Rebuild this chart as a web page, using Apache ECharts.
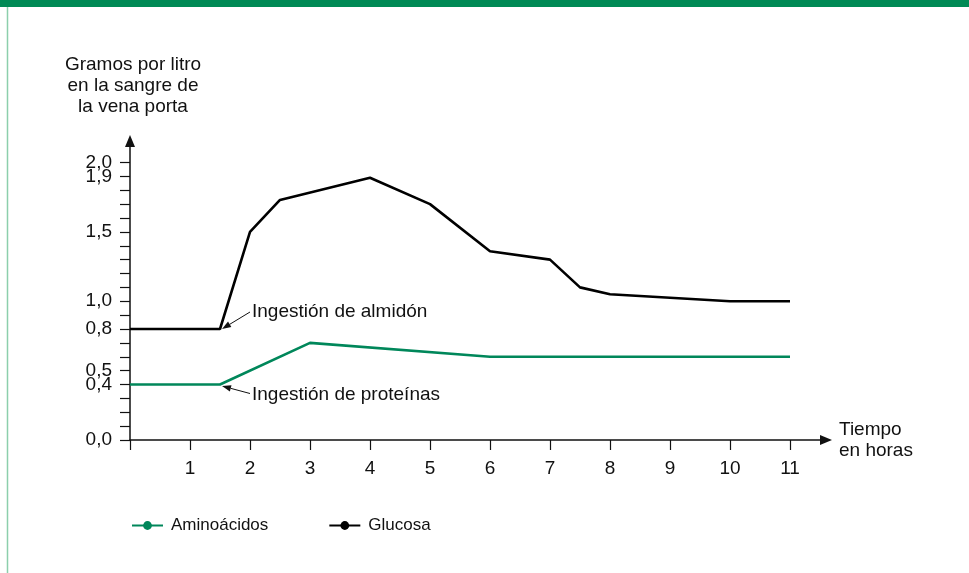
<!DOCTYPE html>
<html>
<head>
<meta charset="utf-8">
<script src="https://cdn.jsdelivr.net/npm/echarts@6/dist/echarts.min.js"></script>
<style>
  html, body { margin: 0; padding: 0; background: #ffffff; }
  #chart { width: 969px; height: 573px; }
</style>
</head>
<body>
<div id="chart"></div>
<script>
// Glucose in portal-vein blood (g/L) over time (hours)
const glucoseHours  = [0, 1.5, 2, 2.5, 4, 5, 6, 7, 7.5, 8, 10, 11];
const glucoseValues = [0.8, 0.8, 1.5, 1.73, 1.89, 1.7, 1.36, 1.3, 1.1, 1.05, 1.0, 1.0];

// Amino acids in portal-vein blood (g/L) over time (hours)
const aminoHours  = [0, 1.5, 3, 6, 11];
const aminoValues = [0.4, 0.4, 0.7, 0.6, 0.6];

// Axis ticks and labels
const xTickValues  = [0, 1, 2, 3, 4, 5, 6, 7, 8, 9, 10, 11];
const xLabelValues = [1, 2, 3, 4, 5, 6, 7, 8, 9, 10, 11];
const yTickValues  = [0, 0.1, 0.2, 0.3, 0.4, 0.5, 0.6, 0.7, 0.8, 0.9, 1.0,
                      1.1, 1.2, 1.3, 1.4, 1.5, 1.6, 1.7, 1.8, 1.9, 2.0];
const yLabelValues = [0, 0.4, 0.5, 0.8, 1.0, 1.5, 2.0];
// drawn on an overlaid axis so the end-label overlap check doesn't drop it
const yLabelValuesExtra = [1.9];

// Event annotations: text and the point they refer to
const eventLabels = ['Ingestión de almidón', 'Ingestión de proteínas'];
const eventHours  = [1.5, 1.5];
const eventValues = [0.8, 0.4];

const GREEN = '#00875a';
const INK = '#111111';
const FONT = '"Liberation Sans", Arial, sans-serif';
const Y_MAX = 2.155;

const zip = (xs, ys) => xs.map((x, i) => [x, ys[i]]);
const comma = v => v.toFixed(1).replace('.', ',');

const yLabelStyle = {
  fontFamily: FONT, fontSize: 19, color: INK, margin: 18,
  showMinLabel: true, showMaxLabel: true, hideOverlap: false,
  formatter: v => comma(v)
};

const chart = echarts.init(document.getElementById('chart'), null, { renderer: 'canvas' });

const option = {
  backgroundColor: '#ffffff',
  animation: false,
  textStyle: { fontFamily: FONT, color: INK },
  grid: { left: 130, right: 143, top: 141, bottom: 133 },
  legend: {
    left: 131,
    top: 517,
    padding: 0,
    itemWidth: 31,
    itemHeight: 11,
    itemGap: 60,
    textStyle: { fontFamily: FONT, fontSize: 17, color: INK, padding: [0, 0, 0, 3] },
    data: ['Aminoácidos', 'Glucosa']
  },
  xAxis: {
    type: 'value',
    min: 0,
    max: 11.6,
    interval: 1,
    name: 'Tiempo\nen horas',
    nameLocation: 'end',
    nameGap: 13,
    nameTextStyle: { fontFamily: FONT, fontSize: 19, color: INK, align: 'left', lineHeight: 21, padding: [0, 0, 3, 0] },
    axisLine: {
      show: true,
      lineStyle: { color: INK, width: 1.5 },
      symbol: ['none', 'triangle'],
      symbolSize: [10, 12]
    },
    axisTick: { show: true, length: 10, lineStyle: { color: INK, width: 1.2 }, customValues: xTickValues },
    axisLabel: {
      fontFamily: FONT, fontSize: 19, color: INK, margin: 19,
      hideOverlap: false,
      customValues: xLabelValues,
      formatter: v => String(v)
    },
    splitLine: { show: false }
  },
  yAxis: [
    {
      type: 'value',
      position: 'left',
      min: 0,
      max: Y_MAX,
      interval: 0.1,
      axisLine: {
        show: true,
        lineStyle: { color: INK, width: 1.5 },
        symbol: ['none', 'triangle'],
        symbolSize: [10, 12]
      },
      axisTick: { show: true, length: 10, lineStyle: { color: INK, width: 1.2 }, customValues: yTickValues },
      axisLabel: Object.assign({ customValues: yLabelValues }, yLabelStyle),
      splitLine: { show: false }
    },
    {
      type: 'value',
      position: 'left',
      offset: 0,
      min: 0,
      max: Y_MAX,
      interval: 0.1,
      axisLine: { show: false },
      axisTick: { show: false, length: 10 },
      axisLabel: Object.assign({ customValues: yLabelValuesExtra }, yLabelStyle, { margin: 18 }),
      splitLine: { show: false }
    }
  ],
  series: [
    {
      name: 'Aminoácidos',
      type: 'line',
      yAxisIndex: 0,
      data: zip(aminoHours, aminoValues),
      symbol: 'circle',
      symbolSize: 9,
      showSymbol: false,
      itemStyle: { color: GREEN },
      lineStyle: { color: GREEN, width: 2.6 },
      z: 3
    },
    {
      name: 'Glucosa',
      type: 'line',
      yAxisIndex: 0,
      data: zip(glucoseHours, glucoseValues),
      symbol: 'circle',
      symbolSize: 9,
      showSymbol: false,
      itemStyle: { color: '#000000' },
      lineStyle: { color: '#000000', width: 2.6 },
      z: 3
    }
  ],
  graphic: [
    // green header band and left rule
    { type: 'rect', id: 'band', shape: { x: 0, y: 0, width: 969, height: 7 }, style: { fill: '#008a55' }, silent: true },
    { type: 'line', id: 'rule', shape: { x1: 7.5, y1: 7, x2: 7.5, y2: 573 }, style: { stroke: '#8ccfac', lineWidth: 1.5 }, silent: true },
    // y-axis title
    {
      type: 'text', id: 'ytitle', x: 133, y: 54,
      style: {
        text: 'Gramos por litro\nen la sangre de\nla vena porta',
        fontFamily: FONT, fontSize: 19, lineHeight: 21, fill: INK, align: 'center', verticalAlign: 'top'
      },
      silent: true
    }
  ]
};

chart.setOption(option);

// Annotation arrows: from the text to the point where each line starts rising
const textOffsets = [[32, -17], [32, 10]];
const arrowStarts = [[30, -17], [30, 9]];
const annot = [];
eventLabels.forEach((label, i) => {
  const p = chart.convertToPixel({ gridIndex: 0 }, [eventHours[i], eventValues[i]]);
  const tip = [p[0] + 2, p[1] + (i === 0 ? 0 : 1.5)];
  const start = [p[0] + arrowStarts[i][0], p[1] + arrowStarts[i][1]];
  const dx = tip[0] - start[0], dy = tip[1] - start[1];
  const len = Math.sqrt(dx * dx + dy * dy);
  const ux = dx / len, uy = dy / len;
  const headLen = 9, headHalf = 3.2;
  const base = [tip[0] - ux * headLen, tip[1] - uy * headLen];
  annot.push({
    type: 'line', id: 'aline' + i,
    shape: { x1: start[0], y1: start[1], x2: base[0], y2: base[1] },
    style: { stroke: INK, lineWidth: 1 }, silent: true, z: 10
  });
  annot.push({
    type: 'polygon', id: 'ahead' + i,
    shape: { points: [tip, [base[0] - uy * headHalf, base[1] + ux * headHalf], [base[0] + uy * headHalf, base[1] - ux * headHalf]] },
    style: { fill: INK }, silent: true, z: 10
  });
  annot.push({
    type: 'text', id: 'atext' + i,
    x: p[0] + textOffsets[i][0], y: p[1] + textOffsets[i][1],
    style: { text: label, fontFamily: FONT, fontSize: 19, fill: INK, align: 'left', verticalAlign: 'middle' },
    silent: true, z: 10
  });
});
chart.setOption({ graphic: annot });
</script>
</body>
</html>
